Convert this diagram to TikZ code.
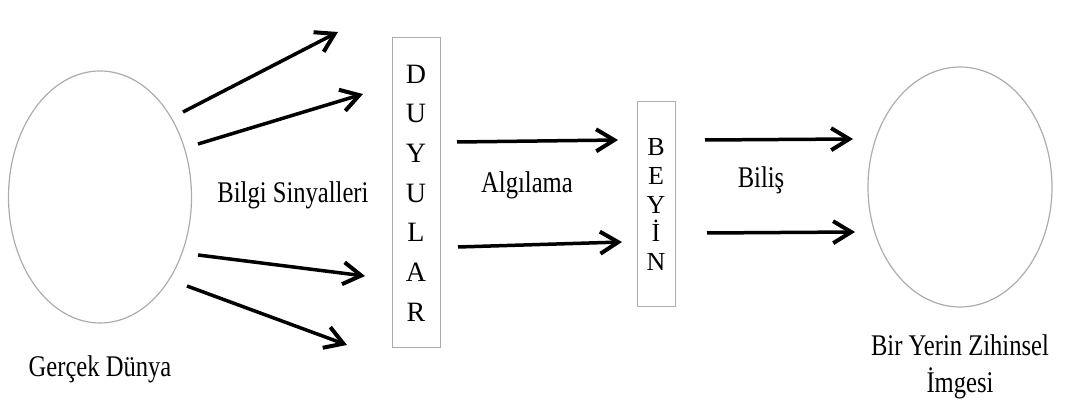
\documentclass[tikz,border=0pt]{standalone}
\usepackage{fontspec}
\setmainfont{Liberation Serif}[FakeStretch=0.82]
\newfontfamily\boxletters{Liberation Serif}
\usetikzlibrary{shapes.geometric, arrows.meta, positioning}
\tikzstyle{oval} = [ellipse, draw=gray!65, line width=1.2pt, inner sep=0pt]
\tikzstyle{letterbox} = [rectangle, draw=gray!65, line width=1pt, align=center, inner sep=0pt]
\tikzstyle{caption} = [align=center, anchor=base, font=\fontsize{30}{36}\selectfont]
\tikzstyle{signalarrow} = [-{Straight Barb[length=18pt,width=22pt,line width=4pt]}, line width=3.5pt]

\begin{document}
\begin{tikzpicture}[x=1pt,y=-1pt]
		\useasboundingbox (0,0) rectangle (1085,403);
		\node (world) [oval, minimum width=183pt, minimum height=252pt] at (100,197) {};
		\node (senses) [letterbox, minimum width=48pt, minimum height=310pt, font=\boxletters\fontsize{28}{39.7}\selectfont] at (416,193) {D\\U\\Y\\U\\L\\A\\R};
		\node (brain) [letterbox, minimum width=38pt, minimum height=205pt, font=\boxletters\fontsize{26}{28.75}\selectfont] at (656,204.5) {B\\E\\Y\\İ\\N};
		\node (image) [oval, minimum width=184pt, minimum height=240pt] at (960,187) {};
		\node (world_label) [caption] at (100,377) {Gerçek Dünya};
		\node (signal_label) [caption] at (293,203) {Bilgi Sinyalleri};
		\node (percept_label) [caption] at (527,193) {Algılama};
		\node (cogn_label) [caption] at (761,188) {Biliş};
		\node (image_label) [caption] at (960,356) {Bir Yerin Zihinsel};
		\node (image_label2) [caption] at (960,392) {İmgesi};
		% signals from the world to the senses
		\coordinate (s1a) at (183,112); \coordinate (s1b) at (338,32);
		\coordinate (s2a) at (198,144); \coordinate (s2b) at (363,94);
		\coordinate (s3a) at (198,255); \coordinate (s3b) at (365,276);
		\coordinate (s4a) at (187,286); \coordinate (s4b) at (347,345);
		\draw [signalarrow] (s1a) -- (s1b);
		\draw [signalarrow] (s2a) -- (s2b);
		\draw [signalarrow] (s3a) -- (s3b);
		\draw [signalarrow] (s4a) -- (s4b);
		% perception
		\coordinate (p1a) at (457,142); \coordinate (p1b) at (618,140);
		\coordinate (p2a) at (458,247); \coordinate (p2b) at (622,242);
		\draw [signalarrow] (p1a) -- (p1b);
		\draw [signalarrow] (p2a) -- (p2b);
		% cognition
		\coordinate (c1a) at (705,140); \coordinate (c1b) at (853,139);
		\coordinate (c2a) at (707,233); \coordinate (c2b) at (855,232);
		\draw [signalarrow] (c1a) -- (c1b);
		\draw [signalarrow] (c2a) -- (c2b);
	\end{tikzpicture}
\end{document}
